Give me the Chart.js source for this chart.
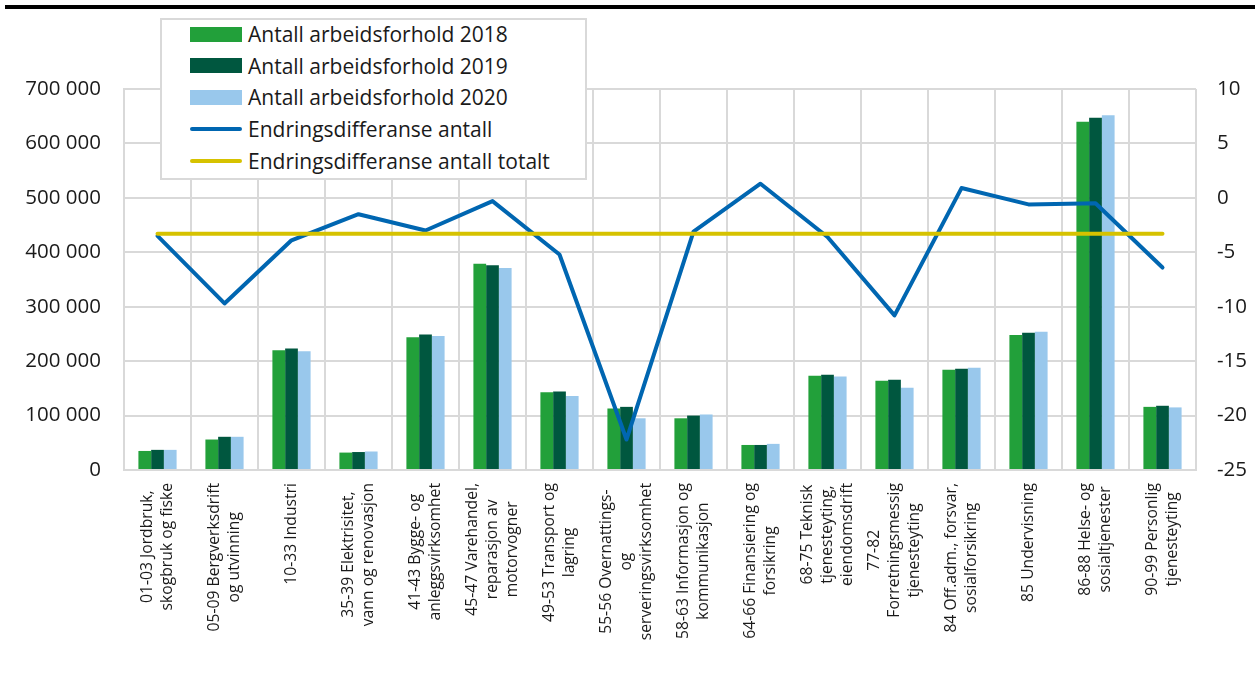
<!DOCTYPE html>
<html lang="no">
<head>
<meta charset="utf-8">
<script src="https://cdn.jsdelivr.net/npm/chart.js@4"></script>
<style>
    body { margin: 0; background: #fff; font-family: "Open Sans", sans-serif; }
    #wrap { position: relative; width: 1255px; height: 673px; }
    #topline { position: absolute; left: 5px; top: 5px; width: 1250px; height: 4px; background: #000; }
    #legend {
        position: absolute; left: 160px; top: 18px; width: 423px; height: 158px;
        background: #fff; border: 2px solid #d9d9d9; z-index: 2;
    }
    .item { position: absolute; left: 28px; height: 32px; display: flex; align-items: center; font-size: 21px; color: #1a1a1a; white-space: nowrap; }
    .sw { width: 52px; margin-right: 6px; }
    .bar { height: 15px; }
    .ln { height: 4px; border-radius: 2px; }
</style>
</head>
<body>
<div id="wrap">
    <div id="topline"></div>
    <canvas id="chart" width="1255" height="673"></canvas>
    <div id="legend"></div>
</div>
<script>
const categories = [
    ['01-03 Jordbruk,', 'skogbruk og fiske'],
    ['05-09 Bergverksdrift', 'og utvinning'],
    ['10-33 Industri'],
    ['35-39 Elektrisitet,', 'vann og renovasjon'],
    ['41-43 Bygge- og', 'anleggsvirksomhet'],
    ['45-47 Varehandel,', 'reparasjon av', 'motorvogner'],
    ['49-53 Transport og', 'lagring'],
    ['55-56 Overnattings-', 'og', 'serveringsvirksomhet'],
    ['58-63 Informasjon og', 'kommunikasjon'],
    ['64-66 Finansiering og', 'forsikring'],
    ['68-75 Teknisk', 'tjenesteyting,', 'eiendomsdrift'],
    ['77-82', 'Forretningsmessig', 'tjenesteyting'],
    ['84 Off.adm., forsvar,', 'sosialforsikring'],
    ['85 Undervisning'],
    ['86-88 Helse- og', 'sosialtjenester'],
    ['90-99 Personlig', 'tjenesteyting']
];

const arbeidsforhold2018 = [35000, 56000, 220000, 32000, 244000, 379000, 143000, 113000, 95000, 46000, 173000, 164000, 184000, 248000, 640000, 116000];
const arbeidsforhold2019 = [37000, 61000, 223000, 33000, 249000, 376000, 144000, 116000, 100000, 46000, 175000, 166000, 186000, 252000, 647000, 118000];
const arbeidsforhold2020 = [37000, 61000, 218000, 34000, 246000, 371000, 136000, 95000, 102000, 48000, 172000, 151000, 188000, 254000, 652000, 115000];
const endring = [-3.5, -9.7, -3.9, -1.5, -3.0, -0.3, -5.2, -22.2, -3.1, 1.3, -3.6, -10.8, 0.9, -0.6, -0.5, -6.4];
const endringTotalt = [-3.3, -3.3, -3.3, -3.3, -3.3, -3.3, -3.3, -3.3, -3.3, -3.3, -3.3, -3.3, -3.3, -3.3, -3.3, -3.3];

const seriesNames = ['Antall arbeidsforhold 2018', 'Antall arbeidsforhold 2019', 'Antall arbeidsforhold 2020',
    'Endringsdifferanse antall', 'Endringsdifferanse antall totalt'];

const colors = ['#22a03a', '#00573f', '#99c8ec', '#0066b1', '#d6c200'];
const gridColor = '#d9d9d9';
const font = 'Open Sans';

// legend som HTML-boks oppå diagrammet
const legendEl = document.getElementById('legend');
seriesNames.forEach((name, i) => {
    const item = document.createElement('div');
    item.className = 'item';
    item.style.top = (i * 31.7) - 2 + 'px';
    const sw = document.createElement('div');
    sw.className = 'sw ' + (i < 3 ? 'bar' : 'ln');
    sw.style.background = colors[i];
    item.appendChild(sw);
    item.appendChild(document.createTextNode(name));
    legendEl.appendChild(item);
});

// tegner kategorietikettene loddrett, med linjene sentrert mot hverandre
const verticalLabels = {
    id: 'verticalLabels',
    afterDraw(chart) {
        const ctx = chart.ctx;
        const xScale = chart.scales.x;
        const top = chart.chartArea.bottom + 13;
        const lh = 20;
        ctx.save();
        ctx.font = '15.7px "' + font + '"';
        ctx.fillStyle = '#1a1a1a';
        ctx.textAlign = 'center';
        ctx.textBaseline = 'middle';
        categories.forEach((lines, i) => {
            const x = xScale.getPixelForValue(i);
            const maxW = Math.max(...lines.map(l => ctx.measureText(l).width));
            ctx.save();
            ctx.translate(x, top);
            ctx.rotate(-Math.PI / 2);
            lines.forEach((l, j) => {
                ctx.fillText(l, -maxW / 2, (j - (lines.length - 1) / 2) * lh);
            });
            ctx.restore();
        });
        ctx.restore();
    }
};

function formatThousands(v) {
    return String(v).replace(/\B(?=(\d{3})+(?!\d))/g, ' ');
}

new Chart(document.getElementById('chart'), {
    type: 'bar',
    data: {
        labels: categories.map(c => c.join(' ')),
        datasets: [
            { type: 'line', label: seriesNames[4], data: endringTotalt, yAxisID: 'y1', borderColor: colors[4], borderWidth: 4, pointRadius: 0, order: 0, borderCapStyle: 'round' },
            { type: 'line', label: seriesNames[3], data: endring, yAxisID: 'y1', borderColor: colors[3], borderWidth: 4, pointRadius: 0, order: 1, borderCapStyle: 'round', borderJoinStyle: 'round' },
            { label: seriesNames[0], data: arbeidsforhold2018, backgroundColor: colors[0], yAxisID: 'y', order: 2 },
            { label: seriesNames[1], data: arbeidsforhold2019, backgroundColor: colors[1], yAxisID: 'y', order: 2 },
            { label: seriesNames[2], data: arbeidsforhold2020, backgroundColor: colors[2], yAxisID: 'y', order: 2 }
        ]
    },
    options: {
        responsive: false,
        animation: false,
        layout: { padding: { top: 89, bottom: 203, left: 0, right: 0 } },
        datasets: {
            bar: { barPercentage: 1, categoryPercentage: 0.57 }
        },
        plugins: {
            legend: { display: false },
            tooltip: { enabled: false }
        },
        scales: {
            x: {
                ticks: { display: false },
                grid: { color: gridColor, lineWidth: 2, drawTicks: false, offset: true },
                border: { color: gridColor, width: 2 },
                afterFit: s => { s.height = 0; }
            },
            y: {
                position: 'left',
                min: 0,
                max: 700000,
                ticks: {
                    stepSize: 100000,
                    padding: 23,
                    color: '#1a1a1a',
                    font: { family: font, size: 20.5 },
                    callback: v => formatThousands(v)
                },
                grid: { color: gridColor, lineWidth: 2, drawTicks: false },
                border: { color: gridColor, width: 2 },
                afterFit: s => { s.width = 124; }
            },
            y1: {
                position: 'right',
                min: -25,
                max: 10,
                ticks: {
                    stepSize: 5,
                    padding: 21,
                    color: '#1a1a1a',
                    font: { family: font, size: 20.5 }
                },
                grid: { drawOnChartArea: false, drawTicks: false },
                border: { display: false },
                afterFit: s => { s.width = 59; }
            }
        }
    },
    plugins: [verticalLabels]
});
</script>
</body>
</html>
